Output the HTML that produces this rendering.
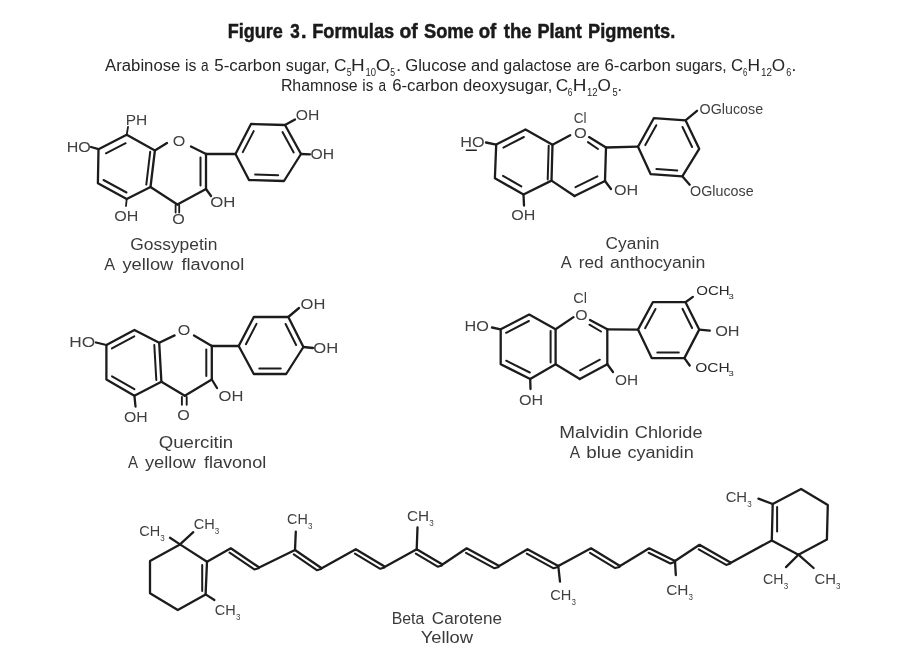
<!DOCTYPE html>
<html><head><meta charset="utf-8"><style>
html,body{margin:0;padding:0;background:#fff;}
svg{display:block;will-change:transform;}
text{font-family:"Liberation Sans",sans-serif;}
</style></head><body>
<svg width="900" height="649" viewBox="0 0 900 649">
<rect width="900" height="649" fill="#fff"/>
<text x="227.85" y="38.0" font-size="20.5" textLength="55.02" lengthAdjust="spacingAndGlyphs" fill="#1a1a1a" font-weight="bold" stroke="#1a1a1a" stroke-width="0.5">Figure</text>
<text x="290.16" y="38.0" font-size="20.5" textLength="9.51" lengthAdjust="spacingAndGlyphs" fill="#1a1a1a" font-weight="bold" stroke="#1a1a1a" stroke-width="0.5">3</text>
<text x="300.90" y="38.0" font-size="20.5" textLength="5.51" lengthAdjust="spacingAndGlyphs" fill="#1a1a1a" font-weight="bold" stroke="#1a1a1a" stroke-width="0.5">.</text>
<text x="312.23" y="38.0" font-size="20.5" textLength="81.97" lengthAdjust="spacingAndGlyphs" fill="#1a1a1a" font-weight="bold" stroke="#1a1a1a" stroke-width="0.5">Formulas</text>
<text x="399.50" y="38.0" font-size="20.5" textLength="18.22" lengthAdjust="spacingAndGlyphs" fill="#1a1a1a" font-weight="bold" stroke="#1a1a1a" stroke-width="0.5">of</text>
<text x="424.02" y="38.0" font-size="20.5" textLength="49.75" lengthAdjust="spacingAndGlyphs" fill="#1a1a1a" font-weight="bold" stroke="#1a1a1a" stroke-width="0.5">Some</text>
<text x="478.72" y="38.0" font-size="20.5" textLength="17.59" lengthAdjust="spacingAndGlyphs" fill="#1a1a1a" font-weight="bold" stroke="#1a1a1a" stroke-width="0.5">of</text>
<text x="503.82" y="38.0" font-size="20.5" textLength="27.76" lengthAdjust="spacingAndGlyphs" fill="#1a1a1a" font-weight="bold" stroke="#1a1a1a" stroke-width="0.5">the</text>
<text x="537.44" y="38.0" font-size="20.5" textLength="44.33" lengthAdjust="spacingAndGlyphs" fill="#1a1a1a" font-weight="bold" stroke="#1a1a1a" stroke-width="0.5">Plant</text>
<text x="588.03" y="38.0" font-size="20.5" textLength="87.18" lengthAdjust="spacingAndGlyphs" fill="#1a1a1a" font-weight="bold" stroke="#1a1a1a" stroke-width="0.5">Pigments.</text>
<text x="105.07" y="71.0" font-size="16" textLength="75.28" lengthAdjust="spacingAndGlyphs" fill="#262626" font-weight="normal">Arabinose</text>
<text x="184.94" y="71.0" font-size="16" textLength="11.43" lengthAdjust="spacingAndGlyphs" fill="#262626" font-weight="normal">is</text>
<text x="201.02" y="71.0" font-size="16" textLength="7.58" lengthAdjust="spacingAndGlyphs" fill="#262626" font-weight="normal">a</text>
<text x="214.32" y="71.0" font-size="16" textLength="66.78" lengthAdjust="spacingAndGlyphs" fill="#262626" font-weight="normal">5-carbon</text>
<text x="285.86" y="71.0" font-size="16" textLength="43.86" lengthAdjust="spacingAndGlyphs" fill="#262626" font-weight="normal">sugar,</text>
<text x="334.12" y="71.0" font-size="16" textLength="12.54" lengthAdjust="spacingAndGlyphs" fill="#262626" font-weight="normal">C</text>
<text x="346.65" y="76.3" font-size="10" textLength="4.93" lengthAdjust="spacingAndGlyphs" fill="#262626" font-weight="normal">5</text>
<text x="351.14" y="71.0" font-size="16" textLength="13.70" lengthAdjust="spacingAndGlyphs" fill="#262626" font-weight="normal">H</text>
<text x="365.58" y="76.3" font-size="10" textLength="10.49" lengthAdjust="spacingAndGlyphs" fill="#262626" font-weight="normal">10</text>
<text x="375.81" y="71.0" font-size="16" textLength="14.59" lengthAdjust="spacingAndGlyphs" fill="#262626" font-weight="normal">O</text>
<text x="390.35" y="76.3" font-size="10" textLength="4.81" lengthAdjust="spacingAndGlyphs" fill="#262626" font-weight="normal">5</text>
<text x="395.97" y="71.0" font-size="16" textLength="5.25" lengthAdjust="spacingAndGlyphs" fill="#262626" font-weight="normal">.</text>
<text x="405.16" y="71.0" font-size="16" textLength="61.28" lengthAdjust="spacingAndGlyphs" fill="#262626" font-weight="normal">Glucose</text>
<text x="470.99" y="71.0" font-size="16" textLength="27.78" lengthAdjust="spacingAndGlyphs" fill="#262626" font-weight="normal">and</text>
<text x="503.33" y="71.0" font-size="16" textLength="68.38" lengthAdjust="spacingAndGlyphs" fill="#262626" font-weight="normal">galactose</text>
<text x="576.62" y="71.0" font-size="16" textLength="23.09" lengthAdjust="spacingAndGlyphs" fill="#262626" font-weight="normal">are</text>
<text x="604.45" y="71.0" font-size="16" textLength="66.35" lengthAdjust="spacingAndGlyphs" fill="#262626" font-weight="normal">6-carbon</text>
<text x="675.47" y="71.0" font-size="16" textLength="51.13" lengthAdjust="spacingAndGlyphs" fill="#262626" font-weight="normal">sugars,</text>
<text x="731.05" y="71.0" font-size="16" textLength="12.09" lengthAdjust="spacingAndGlyphs" fill="#262626" font-weight="normal">C</text>
<text x="743.00" y="75.8" font-size="10" textLength="4.34" lengthAdjust="spacingAndGlyphs" fill="#262626" font-weight="normal">6</text>
<text x="747.58" y="71.0" font-size="16" textLength="12.54" lengthAdjust="spacingAndGlyphs" fill="#262626" font-weight="normal">H</text>
<text x="760.94" y="75.8" font-size="10" textLength="11.06" lengthAdjust="spacingAndGlyphs" fill="#262626" font-weight="normal">12</text>
<text x="771.89" y="71.0" font-size="16" textLength="13.33" lengthAdjust="spacingAndGlyphs" fill="#262626" font-weight="normal">O</text>
<text x="786.34" y="75.8" font-size="10" textLength="5.06" lengthAdjust="spacingAndGlyphs" fill="#262626" font-weight="normal">6</text>
<text x="791.27" y="71.0" font-size="16" textLength="5.25" lengthAdjust="spacingAndGlyphs" fill="#262626" font-weight="normal">.</text>
<text x="280.90" y="90.8" font-size="16" textLength="76.81" lengthAdjust="spacingAndGlyphs" fill="#262626" font-weight="normal">Rhamnose</text>
<text x="362.28" y="90.8" font-size="16" textLength="10.96" lengthAdjust="spacingAndGlyphs" fill="#262626" font-weight="normal">is</text>
<text x="378.42" y="90.8" font-size="16" textLength="7.58" lengthAdjust="spacingAndGlyphs" fill="#262626" font-weight="normal">a</text>
<text x="392.15" y="90.8" font-size="16" textLength="66.24" lengthAdjust="spacingAndGlyphs" fill="#262626" font-weight="normal">6-carbon</text>
<text x="463.01" y="90.8" font-size="16" textLength="89.47" lengthAdjust="spacingAndGlyphs" fill="#262626" font-weight="normal">deoxysugar,</text>
<text x="555.82" y="90.8" font-size="16" textLength="12.54" lengthAdjust="spacingAndGlyphs" fill="#262626" font-weight="normal">C</text>
<text x="567.87" y="95.8" font-size="10" textLength="4.70" lengthAdjust="spacingAndGlyphs" fill="#262626" font-weight="normal">6</text>
<text x="572.84" y="90.8" font-size="16" textLength="13.70" lengthAdjust="spacingAndGlyphs" fill="#262626" font-weight="normal">H</text>
<text x="587.07" y="95.8" font-size="10" textLength="10.61" lengthAdjust="spacingAndGlyphs" fill="#262626" font-weight="normal">12</text>
<text x="597.49" y="90.8" font-size="16" textLength="13.33" lengthAdjust="spacingAndGlyphs" fill="#262626" font-weight="normal">O</text>
<text x="612.43" y="95.8" font-size="10" textLength="5.16" lengthAdjust="spacingAndGlyphs" fill="#262626" font-weight="normal">5</text>
<text x="617.27" y="90.8" font-size="16" textLength="4.96" lengthAdjust="spacingAndGlyphs" fill="#262626" font-weight="normal">.</text>
<polygon points="126.7,134.8 98.5,149.2 97.9,183.3 126.7,199.0 150.5,187.0 154.9,150.5" fill="none" stroke="#1c1c1c" stroke-width="2.3" stroke-linejoin="round" stroke-linecap="round"/>
<line x1="105.9" y1="153.3" x2="125.7" y2="143.2" stroke="#1c1c1c" stroke-width="2.0" stroke-linecap="round"/>
<line x1="103.5" y1="180.0" x2="126.5" y2="192.5" stroke="#1c1c1c" stroke-width="2.0" stroke-linecap="round"/>
<line x1="150.2" y1="151.8" x2="146.3" y2="184.6" stroke="#1c1c1c" stroke-width="2.0" stroke-linecap="round"/>
<line x1="154.9" y1="150.5" x2="167.0" y2="143.0" stroke="#1c1c1c" stroke-width="2.3" stroke-linecap="round"/>
<line x1="191.0" y1="146.5" x2="206.0" y2="154.0" stroke="#1c1c1c" stroke-width="2.3" stroke-linecap="round"/>
<line x1="206.0" y1="154.0" x2="206.0" y2="189.0" stroke="#1c1c1c" stroke-width="2.3" stroke-linecap="round"/>
<line x1="206.0" y1="189.0" x2="177.4" y2="204.5" stroke="#1c1c1c" stroke-width="2.3" stroke-linecap="round"/>
<line x1="177.4" y1="204.5" x2="150.5" y2="187.0" stroke="#1c1c1c" stroke-width="2.3" stroke-linecap="round"/>
<line x1="200.5" y1="157.5" x2="200.5" y2="185.5" stroke="#1c1c1c" stroke-width="2.0" stroke-linecap="round"/>
<line x1="175.6" y1="205.0" x2="175.6" y2="212.5" stroke="#1c1c1c" stroke-width="1.8" stroke-linecap="round"/>
<line x1="179.2" y1="205.0" x2="179.2" y2="212.5" stroke="#1c1c1c" stroke-width="1.8" stroke-linecap="round"/>
<polygon points="235.5,154.0 251.0,124.0 285.0,125.0 301.0,154.0 284.0,181.0 249.0,180.0" fill="none" stroke="#1c1c1c" stroke-width="2.3" stroke-linejoin="round" stroke-linecap="round"/>
<line x1="206.0" y1="154.0" x2="235.5" y2="154.0" stroke="#1c1c1c" stroke-width="2.3" stroke-linecap="round"/>
<line x1="242.8" y1="152.1" x2="253.7" y2="131.1" stroke="#1c1c1c" stroke-width="2.0" stroke-linecap="round"/>
<line x1="282.5" y1="132.1" x2="293.7" y2="152.4" stroke="#1c1c1c" stroke-width="2.0" stroke-linecap="round"/>
<line x1="278.2" y1="175.2" x2="255.1" y2="174.6" stroke="#1c1c1c" stroke-width="2.0" stroke-linecap="round"/>
<line x1="285.0" y1="125.0" x2="295.0" y2="119.5" stroke="#1c1c1c" stroke-width="2.3" stroke-linecap="round"/>
<line x1="301.0" y1="154.0" x2="310.0" y2="154.3" stroke="#1c1c1c" stroke-width="2.3" stroke-linecap="round"/>
<line x1="206.0" y1="189.0" x2="211.0" y2="196.0" stroke="#1c1c1c" stroke-width="2.3" stroke-linecap="round"/>
<line x1="98.5" y1="149.2" x2="91.0" y2="147.0" stroke="#1c1c1c" stroke-width="2.3" stroke-linecap="round"/>
<line x1="126.7" y1="134.8" x2="128.0" y2="127.0" stroke="#1c1c1c" stroke-width="1.8" stroke-linecap="round"/>
<line x1="126.7" y1="199.0" x2="126.0" y2="206.0" stroke="#1c1c1c" stroke-width="1.8" stroke-linecap="round"/>
<text x="66.68" y="151.9" font-size="14.3" textLength="24.09" lengthAdjust="spacingAndGlyphs" fill="#404040" font-weight="normal">HO</text>
<text x="125.73" y="124.9" font-size="14.3" textLength="21.54" lengthAdjust="spacingAndGlyphs" fill="#404040" font-weight="normal">PH</text>
<text x="114.24" y="220.9" font-size="14.3" textLength="24.07" lengthAdjust="spacingAndGlyphs" fill="#404040" font-weight="normal">OH</text>
<text x="172.74" y="145.9" font-size="14.3" textLength="12.53" lengthAdjust="spacingAndGlyphs" fill="#404040" font-weight="normal">O</text>
<text x="172.24" y="223.9" font-size="14.3" textLength="12.53" lengthAdjust="spacingAndGlyphs" fill="#404040" font-weight="normal">O</text>
<text x="210.21" y="206.9" font-size="14.3" textLength="25.16" lengthAdjust="spacingAndGlyphs" fill="#404040" font-weight="normal">OH</text>
<text x="295.65" y="120.4" font-size="14.3" textLength="23.63" lengthAdjust="spacingAndGlyphs" fill="#404040" font-weight="normal">OH</text>
<text x="310.45" y="158.6" font-size="14.3" textLength="23.63" lengthAdjust="spacingAndGlyphs" fill="#404040" font-weight="normal">OH</text>
<text x="130.33" y="249.6" font-size="16" textLength="87.00" lengthAdjust="spacingAndGlyphs" fill="#3a3a3a" font-weight="normal">Gossypetin</text>
<text x="104.17" y="270.0" font-size="16" textLength="10.86" lengthAdjust="spacingAndGlyphs" fill="#3a3a3a" font-weight="normal">A</text>
<text x="122.46" y="270.0" font-size="16" textLength="50.80" lengthAdjust="spacingAndGlyphs" fill="#3a3a3a" font-weight="normal">yellow</text>
<text x="181.44" y="270.0" font-size="16" textLength="62.78" lengthAdjust="spacingAndGlyphs" fill="#3a3a3a" font-weight="normal">flavonol</text>
<polygon points="525.5,129.4 496.2,144.6 494.9,178.2 523.5,194.5 551.5,180.6 552.5,144.8" fill="none" stroke="#1c1c1c" stroke-width="2.3" stroke-linejoin="round" stroke-linecap="round"/>
<line x1="503.4" y1="147.6" x2="523.9" y2="137.0" stroke="#1c1c1c" stroke-width="2.0" stroke-linecap="round"/>
<line x1="503.0" y1="175.9" x2="521.3" y2="186.4" stroke="#1c1c1c" stroke-width="2.0" stroke-linecap="round"/>
<line x1="548.7" y1="145.8" x2="547.7" y2="179.4" stroke="#1c1c1c" stroke-width="2.0" stroke-linecap="round"/>
<line x1="552.5" y1="144.8" x2="570.2" y2="135.3" stroke="#1c1c1c" stroke-width="2.3" stroke-linecap="round"/>
<line x1="589.0" y1="137.1" x2="606.0" y2="147.5" stroke="#1c1c1c" stroke-width="2.3" stroke-linecap="round"/>
<line x1="587.9" y1="142.1" x2="598.0" y2="149.0" stroke="#1c1c1c" stroke-width="2.0" stroke-linecap="round"/>
<line x1="606.0" y1="147.5" x2="605.0" y2="181.0" stroke="#1c1c1c" stroke-width="2.3" stroke-linecap="round"/>
<line x1="605.0" y1="181.0" x2="574.5" y2="196.0" stroke="#1c1c1c" stroke-width="2.3" stroke-linecap="round"/>
<line x1="574.5" y1="196.0" x2="551.5" y2="180.6" stroke="#1c1c1c" stroke-width="2.3" stroke-linecap="round"/>
<line x1="597.4" y1="176.4" x2="575.5" y2="187.2" stroke="#1c1c1c" stroke-width="2.0" stroke-linecap="round"/>
<polygon points="638.0,146.7 653.8,118.2 685.5,120.3 699.2,148.8 682.3,176.3 650.7,174.2" fill="none" stroke="#1c1c1c" stroke-width="2.3" stroke-linejoin="round" stroke-linecap="round"/>
<line x1="606.0" y1="147.5" x2="638.0" y2="146.7" stroke="#1c1c1c" stroke-width="2.3" stroke-linecap="round"/>
<line x1="645.3" y1="145.1" x2="656.3" y2="125.2" stroke="#1c1c1c" stroke-width="2.0" stroke-linecap="round"/>
<line x1="682.5" y1="127.0" x2="692.1" y2="147.0" stroke="#1c1c1c" stroke-width="2.0" stroke-linecap="round"/>
<line x1="677.3" y1="170.4" x2="656.4" y2="169.0" stroke="#1c1c1c" stroke-width="2.0" stroke-linecap="round"/>
<line x1="685.5" y1="120.3" x2="697.0" y2="110.8" stroke="#1c1c1c" stroke-width="2.3" stroke-linecap="round"/>
<line x1="682.3" y1="176.3" x2="689.7" y2="184.7" stroke="#1c1c1c" stroke-width="2.3" stroke-linecap="round"/>
<line x1="605.0" y1="181.0" x2="611.0" y2="189.0" stroke="#1c1c1c" stroke-width="2.3" stroke-linecap="round"/>
<line x1="496.2" y1="144.6" x2="486.0" y2="142.5" stroke="#1c1c1c" stroke-width="2.3" stroke-linecap="round"/>
<line x1="523.5" y1="194.5" x2="524.0" y2="205.5" stroke="#1c1c1c" stroke-width="2.3" stroke-linecap="round"/>
<text x="460.27" y="146.9" font-size="14.3" textLength="24.30" lengthAdjust="spacingAndGlyphs" fill="#404040" font-weight="normal">HO</text>
<line x1="466.3" y1="150.3" x2="476.3" y2="150.3" stroke="#222" stroke-width="1.4" stroke-linecap="round"/>
<text x="511.24" y="219.9" font-size="14.3" textLength="24.07" lengthAdjust="spacingAndGlyphs" fill="#404040" font-weight="normal">OH</text>
<text x="613.94" y="194.9" font-size="14.3" textLength="24.18" lengthAdjust="spacingAndGlyphs" fill="#404040" font-weight="normal">OH</text>
<text x="574.12" y="137.9" font-size="14.3" textLength="12.76" lengthAdjust="spacingAndGlyphs" fill="#404040" font-weight="normal">O</text>
<text x="573.81" y="122.5" font-size="14.3" textLength="12.79" lengthAdjust="spacingAndGlyphs" fill="#404040" font-weight="normal">Cl</text>
<text x="699.62" y="113.6" font-size="14.3" textLength="63.51" lengthAdjust="spacingAndGlyphs" fill="#404040" font-weight="normal">OGlucose</text>
<text x="690.12" y="195.9" font-size="14.3" textLength="63.51" lengthAdjust="spacingAndGlyphs" fill="#404040" font-weight="normal">OGlucose</text>
<text x="605.62" y="248.7" font-size="16" textLength="53.90" lengthAdjust="spacingAndGlyphs" fill="#3a3a3a" font-weight="normal">Cyanin</text>
<text x="560.77" y="268.2" font-size="16" textLength="10.96" lengthAdjust="spacingAndGlyphs" fill="#3a3a3a" font-weight="normal">A</text>
<text x="578.86" y="268.2" font-size="16" textLength="24.74" lengthAdjust="spacingAndGlyphs" fill="#3a3a3a" font-weight="normal">red</text>
<text x="610.05" y="268.2" font-size="16" textLength="95.30" lengthAdjust="spacingAndGlyphs" fill="#3a3a3a" font-weight="normal">anthocyanin</text>
<polygon points="134.4,329.9 106.4,345.0 106.4,379.5 134.4,395.7 161.4,381.7 159.2,342.8" fill="none" stroke="#1c1c1c" stroke-width="2.3" stroke-linejoin="round" stroke-linecap="round"/>
<line x1="111.9" y1="348.4" x2="134.3" y2="336.3" stroke="#1c1c1c" stroke-width="2.0" stroke-linecap="round"/>
<line x1="112.0" y1="376.3" x2="134.4" y2="389.2" stroke="#1c1c1c" stroke-width="2.0" stroke-linecap="round"/>
<line x1="154.3" y1="345.0" x2="156.3" y2="380.0" stroke="#1c1c1c" stroke-width="2.0" stroke-linecap="round"/>
<line x1="159.2" y1="342.8" x2="174.6" y2="335.4" stroke="#1c1c1c" stroke-width="2.3" stroke-linecap="round"/>
<line x1="194.0" y1="335.4" x2="211.8" y2="346.0" stroke="#1c1c1c" stroke-width="2.3" stroke-linecap="round"/>
<line x1="211.8" y1="346.0" x2="211.8" y2="379.5" stroke="#1c1c1c" stroke-width="2.3" stroke-linecap="round"/>
<line x1="211.8" y1="379.5" x2="184.8" y2="395.7" stroke="#1c1c1c" stroke-width="2.3" stroke-linecap="round"/>
<line x1="184.8" y1="395.7" x2="161.4" y2="381.7" stroke="#1c1c1c" stroke-width="2.3" stroke-linecap="round"/>
<line x1="206.3" y1="349.4" x2="206.3" y2="376.1" stroke="#1c1c1c" stroke-width="2.0" stroke-linecap="round"/>
<line x1="181.9" y1="397.0" x2="181.9" y2="404.7" stroke="#1c1c1c" stroke-width="1.9" stroke-linecap="round"/>
<line x1="186.7" y1="397.0" x2="186.7" y2="404.7" stroke="#1c1c1c" stroke-width="1.9" stroke-linecap="round"/>
<polygon points="238.7,346.0 253.8,317.0 288.3,317.0 303.4,347.0 286.2,374.0 253.8,374.0" fill="none" stroke="#1c1c1c" stroke-width="2.3" stroke-linejoin="round" stroke-linecap="round"/>
<line x1="211.8" y1="346.0" x2="238.7" y2="346.0" stroke="#1c1c1c" stroke-width="2.3" stroke-linecap="round"/>
<line x1="245.9" y1="344.2" x2="256.5" y2="323.9" stroke="#1c1c1c" stroke-width="2.0" stroke-linecap="round"/>
<line x1="285.6" y1="324.0" x2="296.1" y2="345.0" stroke="#1c1c1c" stroke-width="2.0" stroke-linecap="round"/>
<line x1="280.7" y1="368.4" x2="259.3" y2="368.4" stroke="#1c1c1c" stroke-width="2.0" stroke-linecap="round"/>
<line x1="288.3" y1="317.0" x2="299.0" y2="308.0" stroke="#1c1c1c" stroke-width="2.3" stroke-linecap="round"/>
<line x1="303.4" y1="347.0" x2="313.0" y2="348.0" stroke="#1c1c1c" stroke-width="2.3" stroke-linecap="round"/>
<line x1="211.8" y1="379.5" x2="217.0" y2="388.0" stroke="#1c1c1c" stroke-width="2.3" stroke-linecap="round"/>
<line x1="106.4" y1="345.0" x2="96.0" y2="342.5" stroke="#1c1c1c" stroke-width="2.3" stroke-linecap="round"/>
<line x1="134.4" y1="395.7" x2="135.5" y2="406.5" stroke="#1c1c1c" stroke-width="2.3" stroke-linecap="round"/>
<text x="69.38" y="346.7" font-size="14.3" textLength="25.95" lengthAdjust="spacingAndGlyphs" fill="#404040" font-weight="normal">HO</text>
<text x="123.95" y="422.2" font-size="14.3" textLength="23.63" lengthAdjust="spacingAndGlyphs" fill="#404040" font-weight="normal">OH</text>
<text x="218.52" y="400.6" font-size="14.3" textLength="24.83" lengthAdjust="spacingAndGlyphs" fill="#404040" font-weight="normal">OH</text>
<text x="300.52" y="308.9" font-size="14.3" textLength="24.83" lengthAdjust="spacingAndGlyphs" fill="#404040" font-weight="normal">OH</text>
<text x="313.21" y="352.9" font-size="14.3" textLength="24.94" lengthAdjust="spacingAndGlyphs" fill="#404040" font-weight="normal">OH</text>
<text x="177.74" y="334.9" font-size="14.3" textLength="12.53" lengthAdjust="spacingAndGlyphs" fill="#404040" font-weight="normal">O</text>
<text x="177.24" y="419.9" font-size="14.3" textLength="12.53" lengthAdjust="spacingAndGlyphs" fill="#404040" font-weight="normal">O</text>
<text x="158.72" y="448.0" font-size="16" textLength="74.49" lengthAdjust="spacingAndGlyphs" fill="#3a3a3a" font-weight="normal">Quercitin</text>
<text x="127.97" y="468.0" font-size="16" textLength="10.06" lengthAdjust="spacingAndGlyphs" fill="#3a3a3a" font-weight="normal">A</text>
<text x="144.96" y="468.0" font-size="16" textLength="50.80" lengthAdjust="spacingAndGlyphs" fill="#3a3a3a" font-weight="normal">yellow</text>
<text x="203.94" y="468.0" font-size="16" textLength="62.26" lengthAdjust="spacingAndGlyphs" fill="#3a3a3a" font-weight="normal">flavonol</text>
<polygon points="529.2,314.6 500.7,329.3 500.7,364.2 530.2,379.0 555.6,364.2 555.6,329.3" fill="none" stroke="#1c1c1c" stroke-width="2.3" stroke-linejoin="round" stroke-linecap="round"/>
<line x1="506.1" y1="332.8" x2="528.9" y2="321.0" stroke="#1c1c1c" stroke-width="2.0" stroke-linecap="round"/>
<line x1="506.2" y1="360.7" x2="529.8" y2="372.5" stroke="#1c1c1c" stroke-width="2.0" stroke-linecap="round"/>
<line x1="550.6" y1="331.0" x2="550.6" y2="362.5" stroke="#1c1c1c" stroke-width="2.0" stroke-linecap="round"/>
<line x1="555.6" y1="329.3" x2="573.5" y2="317.1" stroke="#1c1c1c" stroke-width="2.3" stroke-linecap="round"/>
<line x1="590.0" y1="320.0" x2="607.3" y2="329.3" stroke="#1c1c1c" stroke-width="2.3" stroke-linecap="round"/>
<line x1="589.4" y1="324.7" x2="601.0" y2="331.5" stroke="#1c1c1c" stroke-width="2.0" stroke-linecap="round"/>
<line x1="607.3" y1="329.3" x2="607.3" y2="364.2" stroke="#1c1c1c" stroke-width="2.3" stroke-linecap="round"/>
<line x1="607.3" y1="364.2" x2="579.8" y2="379.0" stroke="#1c1c1c" stroke-width="2.3" stroke-linecap="round"/>
<line x1="579.8" y1="379.0" x2="555.6" y2="364.2" stroke="#1c1c1c" stroke-width="2.3" stroke-linecap="round"/>
<line x1="599.9" y1="359.7" x2="580.1" y2="370.3" stroke="#1c1c1c" stroke-width="2.0" stroke-linecap="round"/>
<polygon points="638.0,329.6 652.8,302.2 685.5,302.2 699.2,329.6 684.4,358.1 651.7,358.1" fill="none" stroke="#1c1c1c" stroke-width="2.3" stroke-linejoin="round" stroke-linecap="round"/>
<line x1="607.3" y1="329.3" x2="638.0" y2="329.6" stroke="#1c1c1c" stroke-width="2.3" stroke-linecap="round"/>
<line x1="645.1" y1="328.2" x2="655.5" y2="309.0" stroke="#1c1c1c" stroke-width="2.0" stroke-linecap="round"/>
<line x1="682.5" y1="308.8" x2="692.1" y2="328.0" stroke="#1c1c1c" stroke-width="2.0" stroke-linecap="round"/>
<line x1="678.8" y1="352.5" x2="657.3" y2="352.5" stroke="#1c1c1c" stroke-width="2.0" stroke-linecap="round"/>
<line x1="685.5" y1="302.2" x2="692.9" y2="296.9" stroke="#1c1c1c" stroke-width="2.3" stroke-linecap="round"/>
<line x1="699.2" y1="329.6" x2="709.8" y2="330.7" stroke="#1c1c1c" stroke-width="2.3" stroke-linecap="round"/>
<line x1="684.4" y1="358.1" x2="689.7" y2="365.5" stroke="#1c1c1c" stroke-width="2.3" stroke-linecap="round"/>
<line x1="607.3" y1="364.2" x2="613.0" y2="372.0" stroke="#1c1c1c" stroke-width="2.3" stroke-linecap="round"/>
<line x1="500.7" y1="329.3" x2="492.0" y2="327.5" stroke="#1c1c1c" stroke-width="2.3" stroke-linecap="round"/>
<line x1="530.2" y1="379.0" x2="530.5" y2="389.0" stroke="#1c1c1c" stroke-width="2.3" stroke-linecap="round"/>
<text x="464.47" y="330.9" font-size="14.3" textLength="24.30" lengthAdjust="spacingAndGlyphs" fill="#404040" font-weight="normal">HO</text>
<text x="518.94" y="404.9" font-size="14.3" textLength="24.18" lengthAdjust="spacingAndGlyphs" fill="#404040" font-weight="normal">OH</text>
<text x="614.97" y="384.9" font-size="14.3" textLength="23.08" lengthAdjust="spacingAndGlyphs" fill="#404040" font-weight="normal">OH</text>
<text x="575.25" y="320.0" font-size="14.3" textLength="12.31" lengthAdjust="spacingAndGlyphs" fill="#404040" font-weight="normal">O</text>
<text x="573.26" y="302.6" font-size="14.3" textLength="13.71" lengthAdjust="spacingAndGlyphs" fill="#404040" font-weight="normal">Cl</text>
<text x="696.29" y="295.2" font-size="13" textLength="33.44" lengthAdjust="spacingAndGlyphs" fill="#2a2a2a" font-weight="normal">OCH</text>
<text x="728.64" y="298.5" font-size="7" textLength="5.28" lengthAdjust="spacingAndGlyphs" fill="#2a2a2a" font-weight="normal">3</text>
<text x="715.23" y="335.6" font-size="14.3" textLength="24.40" lengthAdjust="spacingAndGlyphs" fill="#404040" font-weight="normal">OH</text>
<text x="695.26" y="372.2" font-size="13" textLength="34.50" lengthAdjust="spacingAndGlyphs" fill="#2a2a2a" font-weight="normal">OCH</text>
<text x="728.64" y="375.5" font-size="7" textLength="5.28" lengthAdjust="spacingAndGlyphs" fill="#2a2a2a" font-weight="normal">3</text>
<text x="559.25" y="438.0" font-size="16" textLength="69.48" lengthAdjust="spacingAndGlyphs" fill="#3a3a3a" font-weight="normal">Malvidin</text>
<text x="634.88" y="438.0" font-size="16" textLength="67.63" lengthAdjust="spacingAndGlyphs" fill="#3a3a3a" font-weight="normal">Chloride</text>
<text x="569.67" y="457.8" font-size="16" textLength="10.36" lengthAdjust="spacingAndGlyphs" fill="#3a3a3a" font-weight="normal">A</text>
<text x="586.30" y="457.8" font-size="16" textLength="35.34" lengthAdjust="spacingAndGlyphs" fill="#3a3a3a" font-weight="normal">blue</text>
<text x="627.53" y="457.8" font-size="16" textLength="66.14" lengthAdjust="spacingAndGlyphs" fill="#3a3a3a" font-weight="normal">cyanidin</text>
<polygon points="180.0,544.4 207.0,561.8 205.6,594.4 177.8,610.0 150.0,593.3 150.0,561.0" fill="none" stroke="#1c1c1c" stroke-width="2.3" stroke-linejoin="round" stroke-linecap="round"/>
<line x1="202.2" y1="565.0" x2="202.2" y2="591.0" stroke="#1c1c1c" stroke-width="2.0" stroke-linecap="round"/>
<line x1="180.0" y1="544.4" x2="170.0" y2="537.8" stroke="#1c1c1c" stroke-width="2.3" stroke-linecap="round"/>
<line x1="180.0" y1="544.4" x2="193.3" y2="532.2" stroke="#1c1c1c" stroke-width="2.3" stroke-linecap="round"/>
<line x1="205.6" y1="594.4" x2="214.4" y2="600.0" stroke="#1c1c1c" stroke-width="2.3" stroke-linecap="round"/>
<polyline points="207.0,561.8 230.8,548.3 259.2,567.5 295.0,550.0 321.7,568.3 355.8,549.2 385.0,566.7 416.7,549.2 442.5,564.5 466.7,548.3 499.2,566.0 527.5,549.2 558.3,566.0 591.0,548.3 620.0,566.0 649.2,548.3 675.0,561.0 699.5,544.8 730.9,562.7 771.8,540.4" fill="none" stroke="#1c1c1c" stroke-width="2.3" stroke-linejoin="round" stroke-linecap="round"/>
<polyline points="229.6,552.7 254.3,569.4 258.6,568.3" fill="none" stroke="#1c1c1c" stroke-width="2.1" stroke-linejoin="round" stroke-linecap="round"/>
<polyline points="293.8,554.4 316.8,570.2 321.1,569.1" fill="none" stroke="#1c1c1c" stroke-width="2.1" stroke-linejoin="round" stroke-linecap="round"/>
<polyline points="354.9,553.7 380.2,568.8 384.5,567.6" fill="none" stroke="#1c1c1c" stroke-width="2.1" stroke-linejoin="round" stroke-linecap="round"/>
<polyline points="415.8,553.7 437.7,566.7 442.0,565.4" fill="none" stroke="#1c1c1c" stroke-width="2.1" stroke-linejoin="round" stroke-linecap="round"/>
<polyline points="466.0,552.8 494.5,568.3 498.7,566.9" fill="none" stroke="#1c1c1c" stroke-width="2.1" stroke-linejoin="round" stroke-linecap="round"/>
<polyline points="526.8,553.7 553.6,568.3 557.8,566.9" fill="none" stroke="#1c1c1c" stroke-width="2.1" stroke-linejoin="round" stroke-linecap="round"/>
<polyline points="590.0,552.8 615.2,568.1 619.5,566.9" fill="none" stroke="#1c1c1c" stroke-width="2.1" stroke-linejoin="round" stroke-linecap="round"/>
<polyline points="648.6,552.8 670.4,563.5 674.6,561.9" fill="none" stroke="#1c1c1c" stroke-width="2.1" stroke-linejoin="round" stroke-linecap="round"/>
<polyline points="698.7,549.3 726.2,564.9 730.4,563.6" fill="none" stroke="#1c1c1c" stroke-width="2.1" stroke-linejoin="round" stroke-linecap="round"/>
<line x1="295.0" y1="550.0" x2="295.8" y2="531.7" stroke="#1c1c1c" stroke-width="2.3" stroke-linecap="round"/>
<line x1="416.7" y1="549.2" x2="417.5" y2="527.5" stroke="#1c1c1c" stroke-width="2.3" stroke-linecap="round"/>
<line x1="558.3" y1="566.0" x2="560.0" y2="581.7" stroke="#1c1c1c" stroke-width="2.3" stroke-linecap="round"/>
<line x1="675.0" y1="561.0" x2="675.8" y2="575.0" stroke="#1c1c1c" stroke-width="2.3" stroke-linecap="round"/>
<polygon points="771.8,540.4 772.7,504.0 801.1,488.9 827.8,504.9 826.9,539.6 798.4,554.7" fill="none" stroke="#1c1c1c" stroke-width="2.3" stroke-linejoin="round" stroke-linecap="round"/>
<line x1="777.1" y1="507.0" x2="777.1" y2="531.6" stroke="#1c1c1c" stroke-width="2.0" stroke-linecap="round"/>
<line x1="772.7" y1="504.0" x2="758.4" y2="498.7" stroke="#1c1c1c" stroke-width="2.3" stroke-linecap="round"/>
<line x1="798.4" y1="554.7" x2="786.0" y2="567.1" stroke="#1c1c1c" stroke-width="2.3" stroke-linecap="round"/>
<line x1="798.4" y1="554.7" x2="813.6" y2="568.0" stroke="#1c1c1c" stroke-width="2.3" stroke-linecap="round"/>
<text x="139.26" y="535.9" font-size="14.3" textLength="20.92" lengthAdjust="spacingAndGlyphs" fill="#404040" font-weight="normal">CH</text>
<text x="160.29" y="540.8" font-size="8.5" textLength="4.46" lengthAdjust="spacingAndGlyphs" fill="#404040" font-weight="normal">3</text>
<text x="193.66" y="529.3" font-size="14.3" textLength="21.03" lengthAdjust="spacingAndGlyphs" fill="#404040" font-weight="normal">CH</text>
<text x="214.79" y="534.2" font-size="8.5" textLength="4.46" lengthAdjust="spacingAndGlyphs" fill="#404040" font-weight="normal">3</text>
<text x="214.86" y="614.9" font-size="14.3" textLength="20.92" lengthAdjust="spacingAndGlyphs" fill="#404040" font-weight="normal">CH</text>
<text x="235.89" y="619.8" font-size="8.5" textLength="4.46" lengthAdjust="spacingAndGlyphs" fill="#404040" font-weight="normal">3</text>
<text x="287.07" y="523.9" font-size="14.3" textLength="20.70" lengthAdjust="spacingAndGlyphs" fill="#404040" font-weight="normal">CH</text>
<text x="307.89" y="528.8" font-size="8.5" textLength="4.46" lengthAdjust="spacingAndGlyphs" fill="#404040" font-weight="normal">3</text>
<text x="407.02" y="520.9" font-size="14.3" textLength="22.13" lengthAdjust="spacingAndGlyphs" fill="#404040" font-weight="normal">CH</text>
<text x="429.19" y="525.8" font-size="8.5" textLength="4.46" lengthAdjust="spacingAndGlyphs" fill="#404040" font-weight="normal">3</text>
<text x="550.26" y="599.9" font-size="14.3" textLength="21.14" lengthAdjust="spacingAndGlyphs" fill="#404040" font-weight="normal">CH</text>
<text x="571.49" y="604.8" font-size="8.5" textLength="4.46" lengthAdjust="spacingAndGlyphs" fill="#404040" font-weight="normal">3</text>
<text x="666.22" y="594.9" font-size="14.3" textLength="22.24" lengthAdjust="spacingAndGlyphs" fill="#404040" font-weight="normal">CH</text>
<text x="688.49" y="599.8" font-size="8.5" textLength="4.46" lengthAdjust="spacingAndGlyphs" fill="#404040" font-weight="normal">3</text>
<text x="725.65" y="501.8" font-size="14.3" textLength="21.47" lengthAdjust="spacingAndGlyphs" fill="#404040" font-weight="normal">CH</text>
<text x="747.19" y="506.7" font-size="8.5" textLength="4.46" lengthAdjust="spacingAndGlyphs" fill="#404040" font-weight="normal">3</text>
<text x="763.08" y="583.9" font-size="14.3" textLength="20.48" lengthAdjust="spacingAndGlyphs" fill="#404040" font-weight="normal">CH</text>
<text x="783.69" y="588.8" font-size="8.5" textLength="4.46" lengthAdjust="spacingAndGlyphs" fill="#404040" font-weight="normal">3</text>
<text x="814.55" y="583.9" font-size="14.3" textLength="21.47" lengthAdjust="spacingAndGlyphs" fill="#404040" font-weight="normal">CH</text>
<text x="836.09" y="588.8" font-size="8.5" textLength="4.46" lengthAdjust="spacingAndGlyphs" fill="#404040" font-weight="normal">3</text>
<text x="391.70" y="623.5" font-size="16" textLength="32.60" lengthAdjust="spacingAndGlyphs" fill="#3a3a3a" font-weight="normal">Beta</text>
<text x="431.83" y="623.5" font-size="16" textLength="70.23" lengthAdjust="spacingAndGlyphs" fill="#3a3a3a" font-weight="normal">Carotene</text>
<text x="420.71" y="642.8" font-size="16" textLength="52.35" lengthAdjust="spacingAndGlyphs" fill="#3a3a3a" font-weight="normal">Yellow</text>
</svg></body></html>
